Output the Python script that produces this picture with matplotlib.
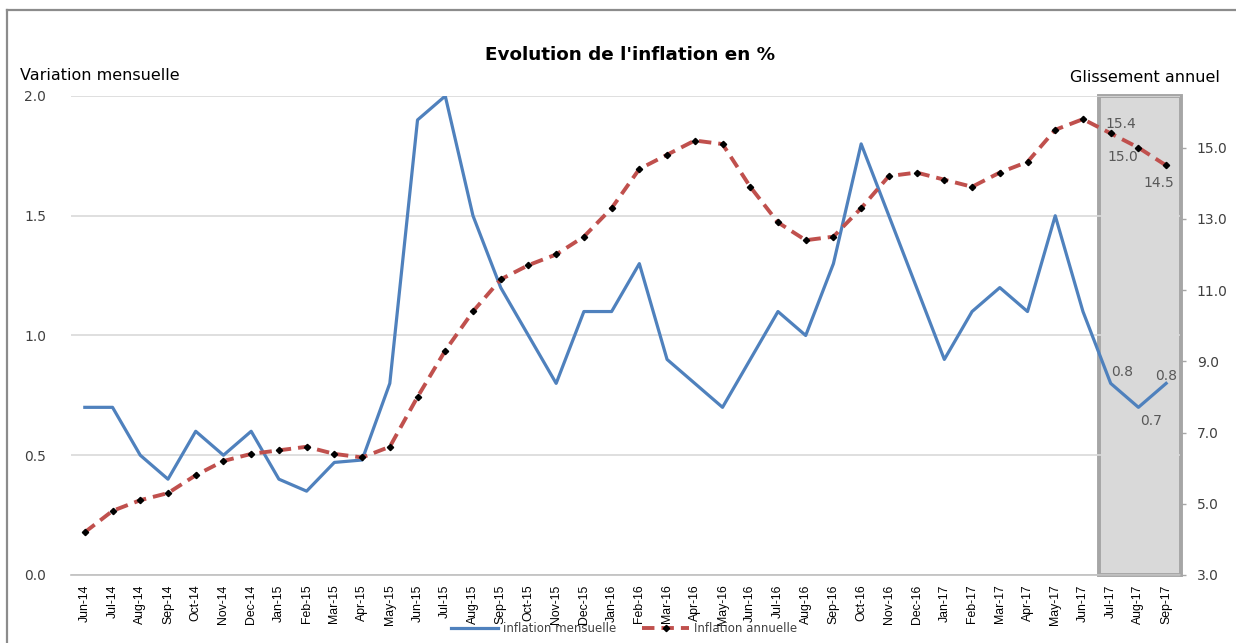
import numpy as np
import matplotlib
matplotlib.use("Agg")
import matplotlib.pyplot as plt
from matplotlib.patches import Rectangle
from matplotlib.lines import Line2D

# data
months = ["Jun-14", "Jul-14", "Aug-14", "Sep-14", "Oct-14", "Nov-14", "Dec-14",
          "Jan-15", "Feb-15", "Mar-15", "Apr-15", "May-15", "Jun-15", "Jul-15",
          "Aug-15", "Sep-15", "Oct-15", "Nov-15", "Dec-15", "Jan-16", "Feb-16",
          "Mar-16", "Apr-16", "May-16", "Jun-16", "Jul-16", "Aug-16", "Sep-16",
          "Oct-16", "Nov-16", "Dec-16", "Jan-17", "Feb-17", "Mar-17", "Apr-17",
          "May-17", "Jun-17", "Jul-17", "Aug-17", "Sep-17"]

mensuelle = [0.7, 0.7, 0.5, 0.4, 0.6, 0.5, 0.6,
             0.4, 0.35, 0.47, 0.48, 0.8, 1.9, 2.0,
             1.5, 1.2, 1.0, 0.8, 1.1, 1.1, 1.3,
             0.9, 0.8, 0.7, 0.9, 1.1, 1.0, 1.3,
             1.8, 1.5, 1.2, 0.9, 1.1, 1.2, 1.1,
             1.5, 1.1, 0.8, 0.7, 0.8]

annuelle = [4.2, 4.8, 5.1, 5.3, 5.8, 6.2, 6.4,
            6.5, 6.6, 6.4, 6.3, 6.6, 8.0, 9.3,
            10.4, 11.3, 11.7, 12.0, 12.5, 13.3, 14.4,
            14.8, 15.2, 15.1, 13.9, 12.9, 12.4, 12.5,
            13.3, 14.2, 14.3, 14.1, 13.9, 14.3, 14.6,
            15.5, 15.8, 15.4, 15.0, 14.5]

left_ticks = [0.0, 0.5, 1.0, 1.5, 2.0]
right_ticks = [3.0, 5.0, 7.0, 9.0, 11.0, 13.0, 15.0]

blue = "#4f81bd"
red = "#c0504d"
txt = "#404040"

fig = plt.figure(figsize=(12.36, 6.43), dpi=100)
ax = fig.add_axes([0.0574, 0.1058, 0.8973, 0.7449])
ax2 = ax.twinx()

x = np.arange(len(months))

# highlighted last three months
box = Rectangle((36.57, 0), 39.53 - 36.57, 2.0, facecolor="#d9d9d9",
                edgecolor="#a6a6a6", lw=2.8, zorder=0.4, clip_on=False)
ax.add_patch(box)

ax.plot(x, mensuelle, color=blue, lw=2.3, zorder=3)
ax2.plot(x, annuelle, color=red, lw=2.8, ls=(0, (3.2, 1.8)),
         marker="D", markersize=3.2, markerfacecolor="black",
         markeredgecolor="black", zorder=3)

ax.set_xlim(-0.5, 39.5)
ax.set_ylim(0, 2.0)
ax2.set_ylim(3.0, 16.45)

ax.set_yticks(left_ticks)
ax.set_yticklabels(["{:.1f}".format(v) for v in left_ticks])
ax2.set_yticks(right_ticks)
ax2.set_yticklabels(["{:.1f}".format(v) for v in right_ticks])

ax.set_axisbelow(True)
ax.grid(axis="y", color="#d9d9d9", lw=1.2, zorder=0.5)

for a in (ax, ax2):
    for s in a.spines.values():
        s.set_visible(False)
ax.spines["bottom"].set_visible(True)
ax.spines["bottom"].set_color("#bfbfbf")
ax.spines["bottom"].set_linewidth(1.2)

ax.tick_params(axis="y", length=0, pad=18, labelsize=10, labelcolor=txt)
ax2.tick_params(axis="y", length=4, width=1, color="#a6a6a6", pad=8,
                labelsize=10, labelcolor=txt)

ax.set_xticks(x)
ax.set_xticklabels(months, rotation=90, fontsize=8.8, color="black",
                   family=["Liberation Sans", "DejaVu Sans"])
ax.tick_params(axis="x", length=0, pad=7)

# data labels in the shaded zone
lab_kw = dict(textcoords="offset points", fontsize=10, color="#595959",
              ha="center", va="center", zorder=5)
ax.annotate("0.8", (37, mensuelle[37]), xytext=(8, 8), **lab_kw)
ax.annotate("0.7", (38, mensuelle[38]), xytext=(9, -10), **lab_kw)
ax.annotate("0.8", (39, mensuelle[39]), xytext=(0, 5), **lab_kw)
ax2.annotate("15.4", (37, annuelle[37]), xytext=(7, 7), **lab_kw)
ax2.annotate("15.0", (38, annuelle[38]), xytext=(-11, -7), **lab_kw)
ax2.annotate("14.5", (39, annuelle[39]), xytext=(-5, -13), **lab_kw)

fig.text(0.51, 0.914, "Evolution de l'inflation en %", ha="center",
         va="center", fontsize=13.2, fontweight="bold", color="black")
fig.text(0.016, 0.883, "Variation mensuelle", ha="left", va="center",
         fontsize=11.5, color="black")
fig.text(0.987, 0.879, "Glissement annuel", ha="right", va="center",
         fontsize=11.5, color="black")

handles = [Line2D([], [], color=blue, lw=2.3),
           Line2D([], [], color=red, lw=2.8, ls=(0, (3.2, 1.8)), marker="D",
                  markersize=3.2, markerfacecolor="black",
                  markeredgecolor="black")]
fig.legend(handles, ["inflation mensuelle", "Inflation annuelle"],
           loc="center", bbox_to_anchor=(0.505, 0.022), ncol=2,
           frameon=False, fontsize=8.5, handlelength=4,
           handletextpad=0.4, columnspacing=2.2, labelcolor=txt)

# outer chart frame (left and top edges visible)
fx = 7 / 1236
fy = 1 - 10 / 643
fig.add_artist(Line2D([fx, fx], [0, fy], transform=fig.transFigure,
                      color="#8c8c8c", lw=1.6))
fig.add_artist(Line2D([fx, 1], [fy, fy], transform=fig.transFigure,
                      color="#8c8c8c", lw=1.6))

fig.savefig("out.png", dpi=100)
